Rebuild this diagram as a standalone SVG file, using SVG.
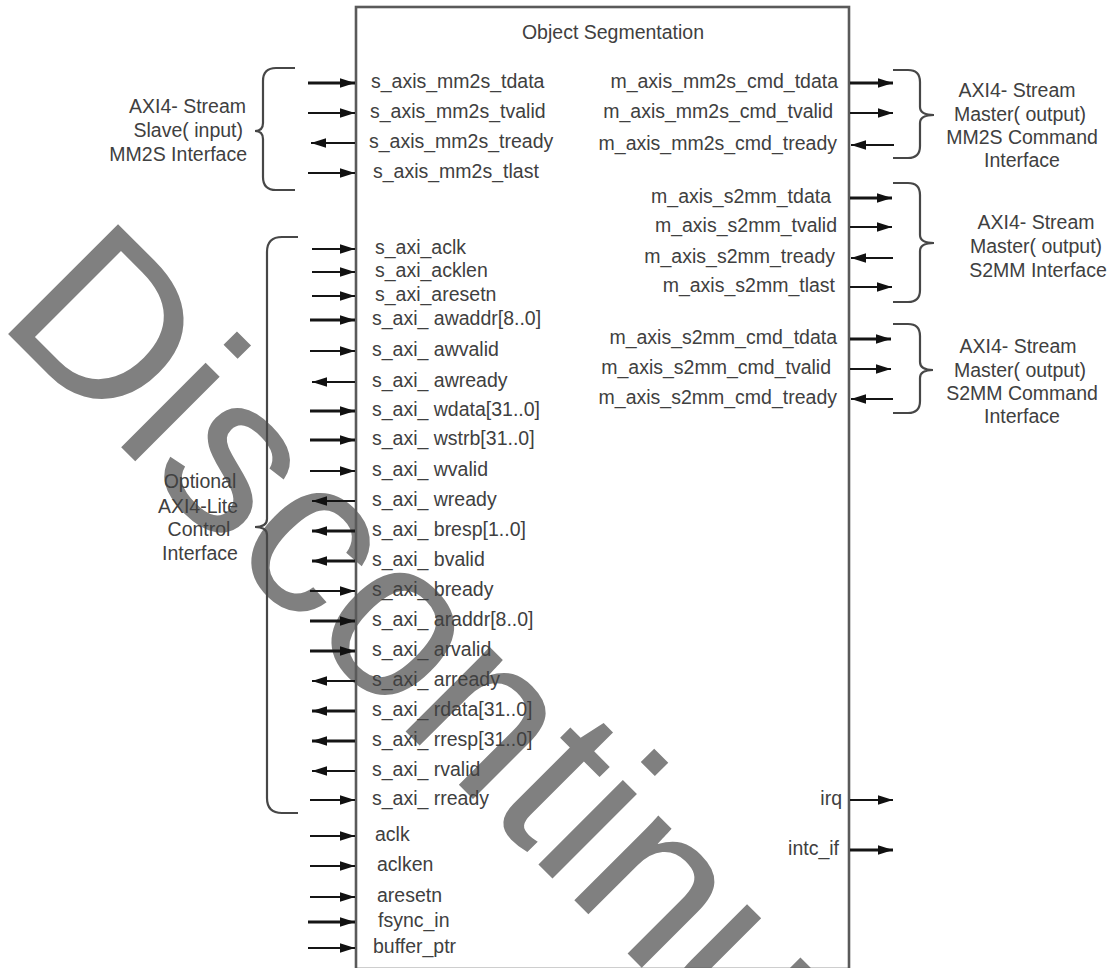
<svg xmlns="http://www.w3.org/2000/svg" width="1108" height="968" viewBox="0 0 1108 968">
<style>
.t{font-family:"Liberation Sans",Arial,sans-serif;font-size:19.5px;fill:#404040}
.e{text-anchor:end}
.m{text-anchor:middle}
.w{font-family:"Liberation Sans",Arial,sans-serif;font-size:226px;fill:#808080}
.a{stroke:#151515;stroke-width:2;fill:none}
.b{stroke:#151515;stroke-width:3;fill:none}
.br{stroke:#474747;stroke-width:2.2;fill:none}
.box{fill:none;stroke:#5a5a5a;stroke-width:2.6}
</style>
<defs>
<marker id="ah" markerUnits="userSpaceOnUse" markerWidth="16" markerHeight="11" refX="15" refY="5.5" orient="auto">
<path d="M0,0.8 L15,5.5 L0,10.2 z" fill="#111"/>
</marker>
</defs>
<rect width="1108" height="968" fill="#fff"/>
<g id="watermark">
<text class="w" transform="translate(-5,321) rotate(45)">Discontinued</text>
</g>
<g id="object-segmentation">
<rect class="box" x="356" y="7" width="493" height="962"/>
<text class="t m" x="613" y="39">Object Segmentation</text>
</g>
<g id="left-ports" class="t">
<text x="371" y="88">s_axis_mm2s_tdata</text>
<text x="370" y="118">s_axis_mm2s_tvalid</text>
<text x="369" y="148">s_axis_mm2s_tready</text>
<text x="373" y="178">s_axis_mm2s_tlast</text>
<text x="375" y="254">s_axi_aclk</text>
<text x="375" y="277">s_axi_acklen</text>
<text x="375" y="301">s_axi_aresetn</text>
<text x="372" y="325">s_axi_ awaddr[8..0]</text>
<text x="372" y="356">s_axi_ awvalid</text>
<text x="372" y="387">s_axi_ awready</text>
<text x="372" y="416">s_axi_ wdata[31..0]</text>
<text x="372" y="445">s_axi_ wstrb[31..0]</text>
<text x="372" y="476">s_axi_ wvalid</text>
<text x="372" y="506">s_axi_ wready</text>
<text x="372" y="536">s_axi_ bresp[1..0]</text>
<text x="372" y="566">s_axi_ bvalid</text>
<text x="372" y="596">s_axi_ bready</text>
<text x="372" y="626">s_axi_ araddr[8..0]</text>
<text x="372" y="656">s_axi_ arvalid</text>
<text x="372" y="686">s_axi_ arready</text>
<text x="372" y="716">s_axi_ rdata[31..0]</text>
<text x="372" y="746">s_axi_ rresp[31..0]</text>
<text x="372" y="776">s_axi_ rvalid</text>
<text x="372" y="805">s_axi_ rready</text>
<text x="375" y="841">aclk</text>
<text x="377" y="871">aclken</text>
<text x="377" y="902">aresetn</text>
<text x="378" y="927">fsync_in</text>
<text x="373" y="953">buffer_ptr</text>
</g>
<g id="right-ports" class="t e">
<text x="838" y="88">m_axis_mm2s_cmd_tdata</text>
<text x="833" y="118">m_axis_mm2s_cmd_tvalid</text>
<text x="837" y="150">m_axis_mm2s_cmd_tready</text>
<text x="831" y="203">m_axis_s2mm_tdata</text>
<text x="837" y="232">m_axis_s2mm_tvalid</text>
<text x="835" y="263">m_axis_s2mm_tready</text>
<text x="835" y="292">m_axis_s2mm_tlast</text>
<text x="837" y="344">m_axis_s2mm_cmd_tdata</text>
<text x="831" y="374">m_axis_s2mm_cmd_tvalid</text>
<text x="837" y="404">m_axis_s2mm_cmd_tready</text>
<text x="842" y="805">irq</text>
<text x="839" y="855">intc_if</text>
</g>
<g id="axi4-stream-slave-mm2s">
<path class="br" d="M295,68 L276,68 Q263,68 263,81 L263,123 Q263,131 255,131 Q263,131 263,139 L263,177 Q263,190 276,190 L295,190"/>
<text class="t e" x="246" y="113">AXI4- Stream</text>
<text class="t e" x="243" y="137">Slave( input)</text>
<text class="t e" x="247" y="161">MM2S Interface</text>
</g>
<g id="axi4-lite-control">
<path class="br" d="M298,237 L282,237 Q267,237 267,252 L267,519 Q267,527 255,527 Q267,527 267,535 L267,798 Q267,813 282,813 L298,813"/>
<text class="t m" x="200" y="488">Optional</text>
<text class="t m" x="198" y="513">AXI4-Lite</text>
<text class="t m" x="199" y="536">Control</text>
<text class="t m" x="200" y="560">Interface</text>
</g>
<g id="axi4-stream-master-mm2s-cmd">
<path class="br" d="M893,70 L908,70 Q920,70 920,82 L920,107 Q920,115 934,115 Q920,115 920,123 L920,146 Q920,158 908,158 L893,158"/>
<text class="t m" x="1017" y="97">AXI4- Stream</text>
<text class="t m" x="1020" y="121">Master( output)</text>
<text class="t m" x="1022" y="144">MM2S Command</text>
<text class="t m" x="1022" y="167">Interface</text>
</g>
<g id="axi4-stream-master-s2mm">
<path class="br" d="M893,183 L908,183 Q920,183 920,195 L920,235 Q920,243 934,243 Q920,243 920,251 L920,290 Q920,302 908,302 L893,302"/>
<text class="t m" x="1036" y="229">AXI4- Stream</text>
<text class="t m" x="1036" y="253">Master( output)</text>
<text class="t m" x="1038" y="277">S2MM Interface</text>
</g>
<g id="axi4-stream-master-s2mm-cmd">
<path class="br" d="M893,324 L908,324 Q920,324 920,336 L920,362 Q920,370 933,370 Q920,370 920,378 L920,401 Q920,413 908,413 L893,413"/>
<text class="t m" x="1018" y="353">AXI4- Stream</text>
<text class="t m" x="1020" y="377">Master( output)</text>
<text class="t m" x="1022" y="400">S2MM Command</text>
<text class="t m" x="1022" y="423">Interface</text>
</g>
<g id="connectors">
<line class="b" x1="308" y1="83" x2="355" y2="83" marker-end="url(#ah)"/>
<line class="a" x1="308" y1="113" x2="355" y2="113" marker-end="url(#ah)"/>
<line class="a" x1="355" y1="143" x2="311" y2="143" marker-end="url(#ah)"/>
<line class="a" x1="308" y1="173" x2="355" y2="173" marker-end="url(#ah)"/>
<line class="a" x1="312" y1="249" x2="355" y2="249" marker-end="url(#ah)"/>
<line class="a" x1="312" y1="272" x2="355" y2="272" marker-end="url(#ah)"/>
<line class="a" x1="312" y1="296" x2="355" y2="296" marker-end="url(#ah)"/>
<line class="b" x1="310" y1="320" x2="355" y2="320" marker-end="url(#ah)"/>
<line class="a" x1="310" y1="351" x2="355" y2="351" marker-end="url(#ah)"/>
<line class="a" x1="355" y1="382" x2="312" y2="382" marker-end="url(#ah)"/>
<line class="b" x1="310" y1="411" x2="355" y2="411" marker-end="url(#ah)"/>
<line class="b" x1="310" y1="440" x2="355" y2="440" marker-end="url(#ah)"/>
<line class="a" x1="310" y1="471" x2="355" y2="471" marker-end="url(#ah)"/>
<line class="a" x1="355" y1="501" x2="312" y2="501" marker-end="url(#ah)"/>
<line class="b" x1="355" y1="531" x2="312" y2="531" marker-end="url(#ah)"/>
<line class="b" x1="355" y1="561" x2="312" y2="561" marker-end="url(#ah)"/>
<line class="a" x1="310" y1="591" x2="355" y2="591" marker-end="url(#ah)"/>
<line class="b" x1="310" y1="621" x2="355" y2="621" marker-end="url(#ah)"/>
<line class="b" x1="310" y1="651" x2="355" y2="651" marker-end="url(#ah)"/>
<line class="a" x1="355" y1="681" x2="312" y2="681" marker-end="url(#ah)"/>
<line class="b" x1="355" y1="711" x2="312" y2="711" marker-end="url(#ah)"/>
<line class="b" x1="355" y1="741" x2="312" y2="741" marker-end="url(#ah)"/>
<line class="a" x1="355" y1="771" x2="312" y2="771" marker-end="url(#ah)"/>
<line class="a" x1="310" y1="800" x2="355" y2="800" marker-end="url(#ah)"/>
<line class="a" x1="310" y1="836" x2="355" y2="836" marker-end="url(#ah)"/>
<line class="a" x1="310" y1="866" x2="355" y2="866" marker-end="url(#ah)"/>
<line class="a" x1="310" y1="897" x2="355" y2="897" marker-end="url(#ah)"/>
<line class="b" x1="308" y1="922" x2="355" y2="922" marker-end="url(#ah)"/>
<line class="a" x1="308" y1="948" x2="355" y2="948" marker-end="url(#ah)"/>
<line class="b" x1="850" y1="83" x2="893" y2="83" marker-end="url(#ah)"/>
<line class="a" x1="850" y1="113" x2="893" y2="113" marker-end="url(#ah)"/>
<line class="a" x1="894" y1="145" x2="851" y2="145" marker-end="url(#ah)"/>
<line class="b" x1="850" y1="198" x2="892" y2="198" marker-end="url(#ah)"/>
<line class="a" x1="850" y1="227" x2="892" y2="227" marker-end="url(#ah)"/>
<line class="a" x1="893" y1="258" x2="851" y2="258" marker-end="url(#ah)"/>
<line class="a" x1="850" y1="287" x2="892" y2="287" marker-end="url(#ah)"/>
<line class="b" x1="850" y1="339" x2="891" y2="339" marker-end="url(#ah)"/>
<line class="a" x1="850" y1="369" x2="891" y2="369" marker-end="url(#ah)"/>
<line class="a" x1="893" y1="399" x2="851" y2="399" marker-end="url(#ah)"/>
<line class="a" x1="850" y1="800" x2="893" y2="800" marker-end="url(#ah)"/>
<line class="b" x1="850" y1="850" x2="893" y2="850" marker-end="url(#ah)"/>
</g>
</svg>
